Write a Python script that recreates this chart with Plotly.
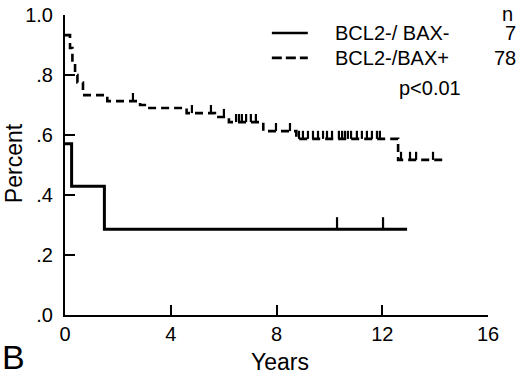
import numpy as np
import plotly.graph_objects as go

# ---- data ----
# BCL2-/BAX- (solid), n = 7
neg_times = [0.0, 0.25, 1.49]
neg_surv = [0.571, 0.429, 0.286]
neg_end = 12.94
neg_censor = [10.29, 12.03]

# BCL2-/BAX+ (dashed), n = 78
pos_times = [0.0, 0.19, 0.28, 0.38, 0.47, 0.68, 1.6, 2.84, 3.1, 4.6, 5.67, 6.2, 7.5, 8.75, 12.6]
pos_surv = [0.933, 0.89, 0.84, 0.80, 0.775, 0.733, 0.713, 0.70, 0.69, 0.673, 0.66, 0.643, 0.613, 0.587, 0.517]
pos_end = 14.45
pos_censor = [2.57, 4.8, 5.52, 6.01, 6.47, 6.58, 6.69, 6.85, 7.03, 7.22, 7.98, 8.51,
              8.85, 9.0, 9.19, 9.38, 9.57, 9.76, 9.91, 10.1, 10.36, 10.48, 10.59, 10.7,
              10.82, 11.04, 11.23, 11.42, 11.61, 11.8, 11.91, 12.71, 13.05, 13.28, 13.92]

x_ticks = [0, 4, 8, 12, 16]
y_ticks = [0, 0.2, 0.4, 0.6, 0.8, 1.0]
y_tick_text = [".0", ".2", ".4", ".6", ".8", "1.0"]

legend_names = ["BCL2-/ BAX-", "BCL2-/BAX+"]
legend_n = ["7", "78"]
p_text = "p<0.01"


def surv_at(times, surv, t):
    idx = np.searchsorted(times, t, side="right") - 1
    return surv[max(idx, 0)]


FONT = "Liberation Sans, Arial, sans-serif"
fig = go.Figure()

for times, surv, end, cens, dash, w in [
    (neg_times, neg_surv, neg_end, neg_censor, "solid", 3),
    (pos_times, pos_surv, pos_end, pos_censor, "8px,5px", 2.6),
]:
    xs = list(times) + [end]
    ys = list(surv) + [surv[-1]]
    fig.add_trace(go.Scatter(x=xs, y=ys, mode="lines", line_shape="hv",
                             line=dict(color="black", width=w, dash=dash),
                             showlegend=False, hoverinfo="skip", cliponaxis=False))
    cy = [surv_at(times, surv, t) for t in cens]
    tick = 0.04 if dash == "solid" else 0.027
    fig.add_trace(go.Scatter(x=cens, y=cy, mode="markers",
                             marker=dict(size=1, color="rgba(0,0,0,0)"),
                             error_y=dict(type="data", symmetric=False,
                                          array=[tick] * len(cens),
                                          arrayminus=[0] * len(cens),
                                          width=0, thickness=2.2, color="black"),
                             showlegend=False, hoverinfo="skip"))

# manual legend
fig.add_shape(type="line", xref="paper", yref="paper", x0=0.489, x1=0.574, y0=0.94, y1=0.94,
              line=dict(color="black", width=2.6))
fig.add_shape(type="line", xref="paper", yref="paper", x0=0.489, x1=0.574, y0=0.857, y1=0.857,
              line=dict(color="black", width=2.6, dash="10px,4px"))
for i, yy in enumerate([0.94, 0.857]):
    fig.add_annotation(xref="paper", yref="paper", x=0.634, y=yy, text=legend_names[i],
                       showarrow=False, xanchor="left", yanchor="middle",
                       font=dict(family=FONT, size=20, color="black"))
    fig.add_annotation(xref="paper", yref="paper", x=1.071, y=yy, text=legend_n[i],
                       showarrow=False, xanchor="right", yanchor="middle",
                       font=dict(family=FONT, size=20, color="black"))
fig.add_annotation(xref="paper", yref="paper", x=1.045, y=1.003, text="n",
                   showarrow=False, xanchor="center", yanchor="middle",
                   font=dict(family=FONT, size=20, color="black"))
fig.add_annotation(xref="paper", yref="paper", x=0.941, y=0.757, text=p_text,
                   showarrow=False, xanchor="right", yanchor="middle",
                   font=dict(family=FONT, size=20, color="black"))
fig.add_annotation(xref="paper", yref="paper", x=-0.154, y=-0.14, text="B",
                   showarrow=False, xanchor="left", yanchor="middle",
                   font=dict(family=FONT, size=34, color="black"))
# axis titles
fig.add_annotation(xref="paper", yref="paper", x=0.508, y=-0.158, text="Years",
                   showarrow=False, xanchor="center", yanchor="middle",
                   font=dict(family=FONT, size=23, color="black"))
fig.add_annotation(xref="paper", yref="paper", x=-0.12, y=0.507, text="Percent",
                   showarrow=False, xanchor="center", yanchor="middle", textangle=-90,
                   font=dict(family=FONT, size=23, color="black"))

fig.update_xaxes(range=[0, 16], tickvals=x_ticks, ticktext=[str(v) for v in x_ticks],
                 ticks="inside", ticklen=10, tickwidth=2, tickcolor="black",
                 showline=True, linecolor="black", linewidth=2, showgrid=False, zeroline=False,
                 tickfont=dict(family=FONT, size=20, color="black"), automargin=False)
fig.update_yaxes(range=[0, 1.0], tickvals=y_ticks, ticktext=y_tick_text,
                 ticks="inside", ticklen=10, tickwidth=2, tickcolor="black",
                 showline=True, linecolor="black", linewidth=2, showgrid=False, zeroline=False,
                 tickfont=dict(family=FONT, size=20, color="black"), automargin=False,
                 ticklabelstandoff=6)
fig.update_layout(width=520, height=376, margin=dict(l=65, r=32, t=15, b=61, autoexpand=False),
                  paper_bgcolor="white", plot_bgcolor="white")
fig.write_html("out.html", config={"displayModeBar": False},
               post_script="document.body.style.margin='0';document.body.style.overflow='hidden';")
